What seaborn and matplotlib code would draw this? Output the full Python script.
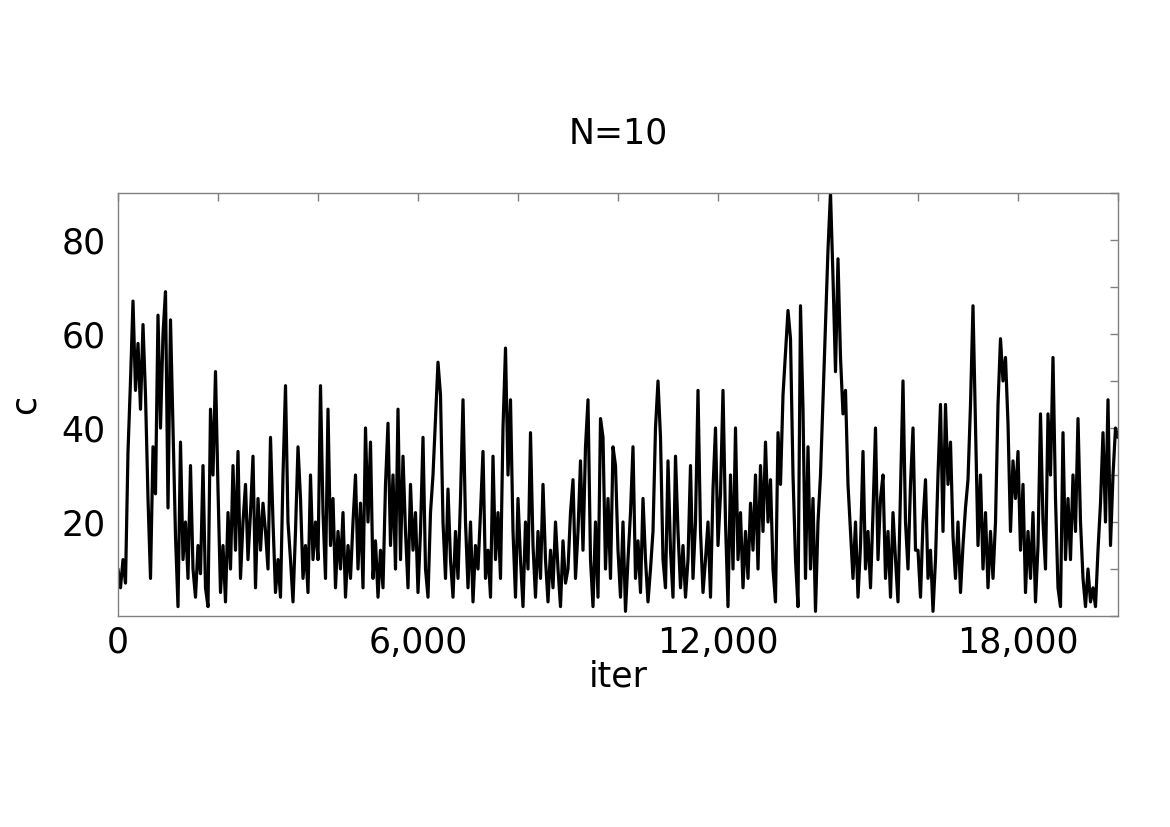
import matplotlib
matplotlib.use("Agg")
import matplotlib.pyplot as plt
import numpy as np
import pandas as pd
import seaborn as sns

c_values = [
    10, 6, 12, 7, 35, 50, 67, 48, 58, 44, 62, 47, 25, 8, 36, 26, 64, 40, 60, 69,      # 0-950
    23, 63, 40, 17, 2, 37, 12, 20, 8, 32, 10, 4, 15, 9, 32, 6, 2, 44, 30, 52,          # 1000
    27, 5, 15, 3, 22, 10, 32, 14, 35, 8, 20, 28, 12, 22, 34, 6, 25, 14, 24, 18,        # 2000
    10, 38, 20, 5, 12, 4, 30, 49, 20, 12, 3, 18, 36, 25, 8, 15, 5, 30, 12, 20,         # 3000
    12, 49, 22, 8, 44, 15, 25, 6, 18, 10, 22, 4, 15, 8, 20, 30, 10, 24, 6, 40,         # 4000
    20, 37, 8, 16, 4, 14, 6, 28, 41, 15, 30, 10, 44, 12, 34, 18, 6, 28, 14, 22,        # 5000
    5, 18, 38, 10, 4, 22, 30, 42, 54, 47, 20, 8, 27, 12, 4, 18, 8, 25, 46, 20,         # 6000
    6, 20, 3, 15, 10, 22, 35, 8, 14, 4, 34, 12, 22, 8, 40, 57, 30, 46, 18, 4,          # 7000
    25, 12, 2, 20, 10, 39, 15, 4, 18, 8, 28, 12, 3, 14, 6, 20, 10, 2, 16, 7,           # 8000
    10, 22, 29, 8, 18, 33, 14, 36, 46, 12, 2, 20, 4, 42, 38, 10, 25, 8, 36, 32,        # 9000
    14, 4, 20, 1, 12, 22, 36, 8, 16, 5, 25, 12, 3, 10, 18, 40, 50, 38, 12, 6,          # 10000
    33, 14, 4, 34, 18, 6, 15, 4, 12, 32, 8, 20, 48, 18, 5, 12, 20, 4, 27, 40,          # 11000
    15, 26, 48, 20, 2, 30, 10, 40, 12, 22, 6, 18, 8, 24, 14, 30, 10, 32, 18, 37,       # 12000
    20, 29, 10, 3, 39, 28, 47, 56, 65, 59, 30, 12, 2, 66, 44, 8, 36, 10, 25, 1,        # 13000
    20, 30, 46, 62, 78, 90, 72, 52, 76, 55, 43, 48, 28, 18, 8, 20, 4, 15, 35, 10,      # 14000
    18, 6, 22, 40, 12, 25, 30, 8, 18, 4, 22, 12, 3, 26, 50, 20, 10, 28, 40, 14,        # 15000
    14, 4, 20, 29, 8, 14, 1, 12, 30, 45, 18, 45, 28, 37, 17, 8, 20, 5, 15, 23,         # 16000
    29, 45, 66, 40, 15, 30, 10, 22, 6, 18, 8, 20, 45, 59, 50, 55, 41, 18, 33, 25,      # 17000
    35, 14, 28, 5, 18, 8, 22, 3, 15, 43, 20, 10, 43, 30, 55, 25, 6, 2, 39, 12,         # 18000
    25, 12, 30, 18, 42, 20, 8, 2, 10, 3, 6, 2, 14, 24, 39, 20, 46, 15, 30, 40,         # 19000
    38,                                                                                 # 20000
]
iter_step = 50
x_ticks = list(range(0, 20001, 2000))
x_labeled = [0, 6000, 12000, 18000]
y_ticks = list(range(0, 91, 10))
y_labeled = [20, 40, 60, 80]

df = pd.DataFrame({"iter": np.arange(len(c_values)) * iter_step, "c": c_values})

sns.set_style("white")
plt.rcParams["font.family"] = ["DejaVu Sans"]
plt.rcParams["text.color"] = "black"
plt.rcParams["axes.labelcolor"] = "black"

fig = plt.figure(figsize=(11.7, 8.27), dpi=100)
ax = fig.add_axes([118 / 1170, 1 - 616 / 827, 1000 / 1170, 423 / 827])

sns.lineplot(data=df, x="iter", y="c", color="black", linewidth=2.3,
             estimator=None, ax=ax)

ax.set_xlim(0, 20000)
ax.set_ylim(0, 90)
ax.set_xticks(x_ticks)
ax.set_xticklabels([f"{t:,}" if t in x_labeled else "" for t in x_ticks])
ax.set_yticks(y_ticks)
ax.set_yticklabels([str(t) if t in y_labeled else "" for t in y_ticks])

ax.tick_params(direction="in", length=6, width=1, color="#808080",
               top=True, right=True, labelsize=25, labelcolor="black")
ax.tick_params(axis="x", pad=7)
ax.tick_params(axis="y", pad=9)
for sp in ax.spines.values():
    sp.set_color("#808080")
    sp.set_linewidth(1)
    sp.set_visible(True)

ax.set_xlabel("iter", fontsize=25, labelpad=0, color="black")
ax.set_ylabel("c", fontsize=25, labelpad=14, color="black")
ax.set_title("N=10", fontsize=25, pad=36, color="black")

fig.savefig("out.png", dpi=100, facecolor="white")
